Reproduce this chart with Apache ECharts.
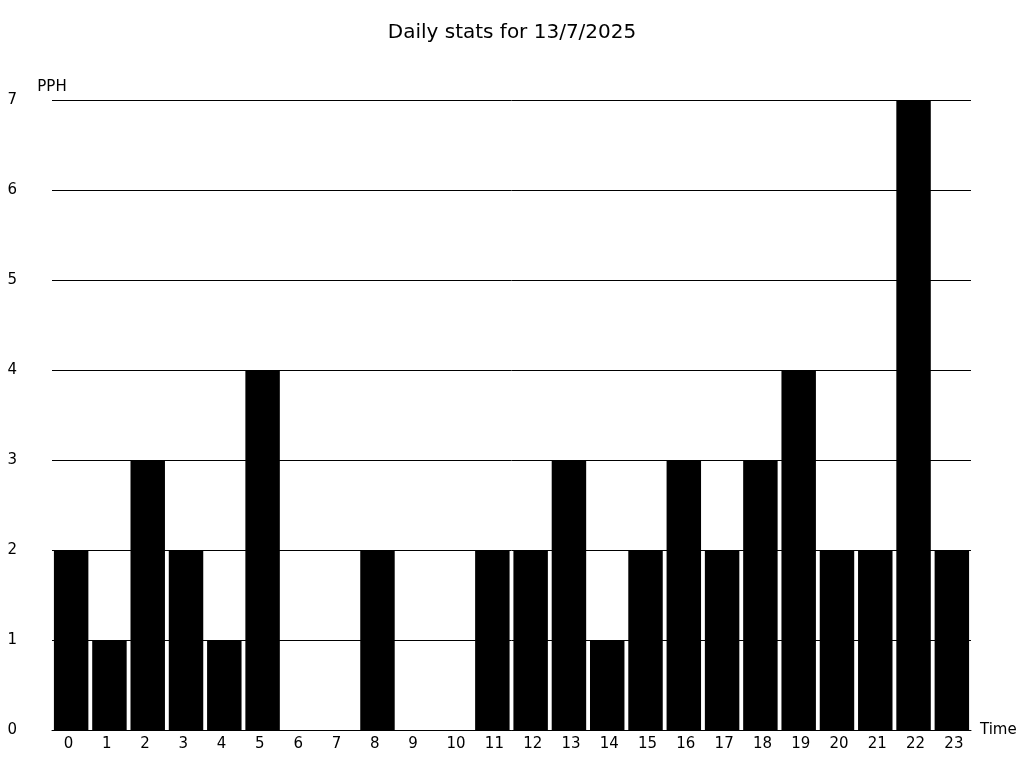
<!DOCTYPE html>
<html><head><meta charset="utf-8">
<script src="https://cdn.jsdelivr.net/npm/echarts@6/dist/echarts.min.js"></script>
<style>html,body{margin:0;padding:0;background:#fff}#c{width:1024px;height:768px}</style>
</head><body><div id="c"></div>
<script>
const categories = ['0','1','2','3','4','5','6','7','8','9','10','11','12','13','14','15','16','17','18','19','20','21','22','23'];
const pph = [2,1,3,2,1,4,0,0,2,0,0,2,2,3,1,2,3,2,3,4,2,2,7,2];
const titleText = 'Daily stats for 13/7/2025';
const font = 'DejaVu Sans';
const chart = echarts.init(document.getElementById('c'), null, {renderer:'canvas'});
chart.setOption({
  animation: false,
  backgroundColor: '#fff',
  textStyle: {fontFamily: font},
  title: {text: titleText, left: 'center', top: 18, textStyle: {fontFamily: font, fontSize: 20, fontWeight: 'normal', color: '#000'}},
  grid: {left: 52, right: 53, top: 100, bottom: 38},
  xAxis: {
    type: 'category', data: categories, name: 'Time', nameLocation: 'end', nameGap: 9,
    nameTextStyle: {fontFamily: font, fontSize: 15, color: '#000'},
    axisLine: {lineStyle: {color: '#000', width: 1}}, axisTick: {show: false},
    axisLabel: {
      interval: 0, hideOverlap: false,
      fontFamily: font, fontSize: 15, color: '#000', margin: 7,
      formatter: v => '{a|' + v + '}',
      rich: {a: {width: 15, align: 'left', fontFamily: font, fontSize: 15, color: '#000'}}
    }
  },
  yAxis: {
    type: 'value', min: 0, max: 7, interval: 1, name: 'PPH', nameLocation: 'end', nameGap: 5,
    nameTextStyle: {fontFamily: font, fontSize: 15, color: '#000'},
    axisLine: {show: false}, axisTick: {show: false},
    axisLabel: {fontFamily: font, fontSize: 15, color: '#000', margin: 35, padding: [3, 0, 0, 0]},
    splitLine: {lineStyle: {color: '#000', width: 1}}
  },
  series: [{type: 'bar', data: pph, barCategoryGap: '10%', itemStyle: {color: '#000'}}]
});
</script></body></html>
